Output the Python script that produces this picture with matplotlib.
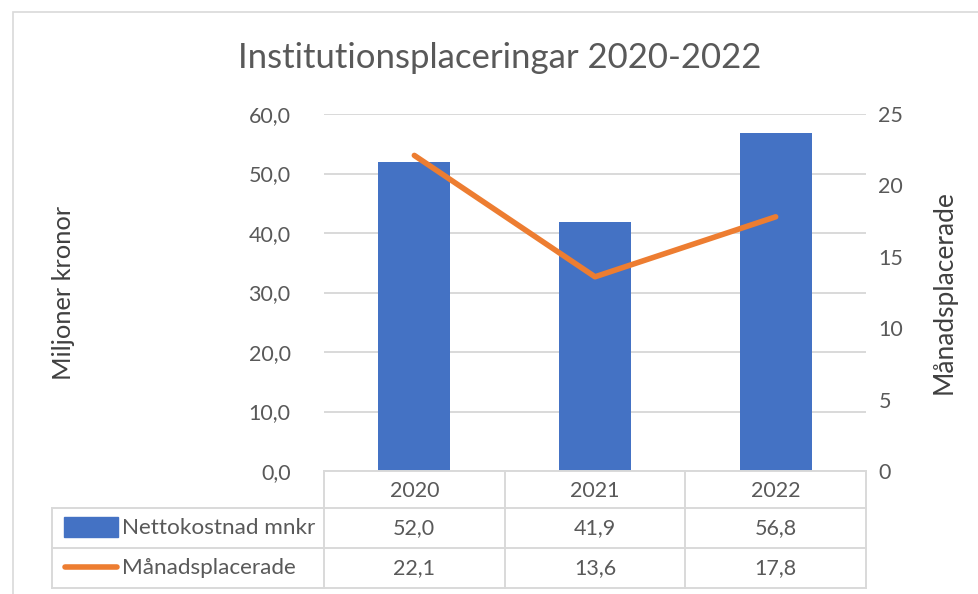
import matplotlib.pyplot as plt
import matplotlib.transforms as mtransforms
from matplotlib.patches import Rectangle
from matplotlib.lines import Line2D

plt.rcParams['font.family'] = ['Lato', 'DejaVu Sans']

# data
years = ['2020', '2021', '2022']
kostnad = [52.0, 41.9, 56.8]      # Nettokostnad mnkr
placerade = [22.1, 13.6, 17.8]    # Månadsplacerade
series_names = ['Nettokostnad mnkr', 'Månadsplacerade']

blue = '#4472C4'
orange = '#ED7D31'
grey_txt = '#595959'
grid_c = '#d9d9d9'
fs = 15.5

W, H = 979, 594
fig = plt.figure(figsize=(W / 100, H / 100), dpi=100)

# outer chart frame
fig.patches.append(Rectangle((13 / W, -0.05), 1.2, (H - 12) / H + 0.05,
                             transform=fig.transFigure, fill=False,
                             edgecolor='#d9d9d9', lw=1.2))

x0, x1, y0, y1 = 324, 866, 114, 471
ax = fig.add_axes([x0 / W, (H - y1) / H, (x1 - x0) / W, (y1 - y0) / H])
ax2 = ax.twinx()

xs = range(len(years))
ax.bar(xs, kostnad, width=0.4, color=blue, zorder=2)
ax2.plot(xs, placerade, color=orange, lw=4.0, solid_capstyle='round',
         solid_joinstyle='round', zorder=3)

ax.set_xlim(-0.5, 2.5)
ax.set_ylim(0, 60)
ax2.set_ylim(0, 25)
ax.set_yticks(range(0, 61, 10))
ax.set_yticklabels([f'{v},0' for v in range(0, 61, 10)])
ax2.set_yticks(range(0, 26, 5))
ax.set_xticks([])

for a in (ax, ax2):
    for s in a.spines.values():
        s.set_visible(False)
    a.tick_params(axis='y', length=0, labelsize=fs, labelcolor=grey_txt)
ax.tick_params(axis='y', pad=24)
ax2.tick_params(axis='y', pad=9)
ax.yaxis.grid(True, color=grid_c, lw=1.4)
ax.set_axisbelow(True)

ax.set_ylabel('Miljoner kronor', fontsize=18.3, color='#404040')
ax.yaxis.set_label_coords((75 - x0) / (x1 - x0), 0.5)
ax2.set_ylabel('Månadsplacerade', fontsize=19, color='#404040')
ax2.yaxis.set_label_coords((932 - x0) / (x1 - x0), 0.5)

fig.text(500 / W, 1 - 58 / H, 'Institutionsplaceringar 2020-2022',
         ha='center', va='center', fontsize=25, color=grey_txt)

# data table below the plot (Excel style)
ph = y1 - y0


def ax_x(px):
    return (px - x0) / (x1 - x0)


def ax_y(py):
    return (y1 - py) / ph


blend = mtransforms.blended_transform_factory(ax.transData, ax.transAxes)
row_lines = [471, 508, 548, 588]
for k, py in enumerate(row_lines):
    left = ax_x(x0) if k == 0 else ax_x(52)
    ax.add_line(Line2D([left, 1], [ax_y(py), ax_y(py)], color=grid_c, lw=1.4,
                       clip_on=False, transform=ax.transAxes))
for xb in [-0.5, 0.5, 1.5, 2.5]:
    ax.add_line(Line2D([xb, xb], [ax_y(471), ax_y(588)], color=grid_c, lw=1.4,
                       clip_on=False, transform=blend))
ax.add_line(Line2D([ax_x(52), ax_x(52)], [ax_y(508), ax_y(588)], color=grid_c,
                   lw=1.4, clip_on=False, transform=ax.transAxes))

row_mid = [491, 528, 568]
for j, yr in enumerate(years):
    ax.text(j, ax_y(row_mid[0]), yr, transform=blend, ha='center', va='center',
            fontsize=fs, color=grey_txt)
rows = [[f'{v:.1f}'.replace('.', ',') for v in kostnad],
        [f'{v:.1f}'.replace('.', ',') for v in placerade]]
for i, r in enumerate(rows):
    for j, t in enumerate(r):
        ax.text(j, ax_y(row_mid[i + 1]), t, transform=blend, ha='center',
                va='center', fontsize=fs, color=grey_txt)

# legend keys + row labels
ax.add_patch(Rectangle((ax_x(64), ax_y(537)), ax_x(118) - ax_x(64),
                       ax_y(517) - ax_y(537), color=blue, clip_on=False,
                       transform=ax.transAxes))
ax.add_line(Line2D([ax_x(65), ax_x(117)], [ax_y(567), ax_y(567)], color=orange,
                   lw=4.0, solid_capstyle='round', clip_on=False,
                   transform=ax.transAxes))
for name, py in zip(series_names, row_mid[1:]):
    ax.text(ax_x(122), ax_y(py), name, transform=ax.transAxes, ha='left',
            va='center', fontsize=16.2, color=grey_txt)

fig.savefig('out.png', dpi=100)
